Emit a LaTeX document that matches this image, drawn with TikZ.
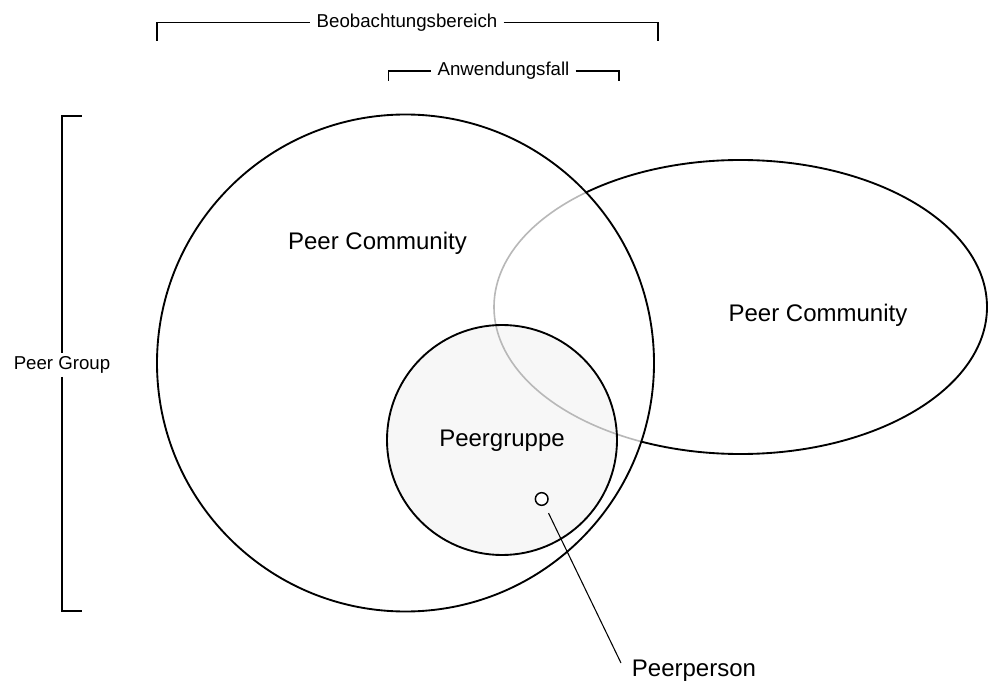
\documentclass[tikz,border=0pt]{standalone}
\usepackage{fontspec}
\setmainfont{Liberation Sans}
\usetikzlibrary{positioning}

\begin{document}
\begin{tikzpicture}[x=0.75pt, y=-0.75pt,
    ring/.style={line width=1.4pt},
    brack/.style={line width=1.1pt},
    smalltxt/.style={font=\fontsize{14}{16}\selectfont, fill=white, inner xsep=4.5pt, inner ysep=2.3pt},
    bigtxt/.style={font=\fontsize{18}{21}\selectfont},
    dot/.style={circle, draw, fill=white, line width=1.1pt, minimum size=9.5pt, inner sep=0pt}]
  \useasboundingbox (0,0) rectangle (990,681);

  % Right community (black part)
  \draw[ring] (740.5,307) ellipse [x radius=246.5, y radius=147];
  \begin{scope}
    \clip (405.5,363) circle [radius=248.5];
    \draw[line width=3pt, white] (740.5,307) ellipse [x radius=246.5, y radius=147];
  \end{scope}

  % Peergruppe fill
  \fill[black!3] (502,440) circle [radius=115];

  % Right community (grey part inside the big circle)
  \begin{scope}
    \clip (405.5,363) circle [radius=248.5];
    \draw[line width=1.2pt, black!28] (740.5,307) ellipse [x radius=246.5, y radius=147];
  \end{scope}

  % Big circle and Peergruppe
  \draw[ring] (405.5,363) circle [radius=248.5];
  \draw[ring] (502,440) circle [radius=115];

  % Labels
  \node[bigtxt] (leftcom) at (377.5,243.5) {Peer Community};
  \node[bigtxt] (rightcom) at (818,315.5) {Peer Community};
  \node[bigtxt] (group) at (502,440.5) {Peergruppe};

  % Peerperson
  \node[dot] (person) at (541.7,499) {};
  \node[bigtxt, inner sep=0pt] (pperson) at (694,671) {Peerperson};
  \coordinate (ptip) at (621,663);
  \draw[line width=0.8pt, shorten <=6.5pt] (person) -- (ptip);

  % Brackets
  \node[smalltxt] (obs) at (407,22.5) {Beobachtungsbereich};
  \draw[brack] (157,41) |- (obs.west);
  \draw[brack] (obs.east) -| (658,41);

  \node[smalltxt] (usecase) at (503.5,71) {Anwendungsfall};
  \draw[brack] (388.5,81) |- (usecase.west);
  \draw[brack] (usecase.east) -| (619,81);

  \node[smalltxt] (peer) at (62,365) {Peer Group};
  \draw[brack] (81.5,116) -| (peer.north);
  \draw[brack] (peer.south) |- (81.5,611);

\end{tikzpicture}
\end{document}
